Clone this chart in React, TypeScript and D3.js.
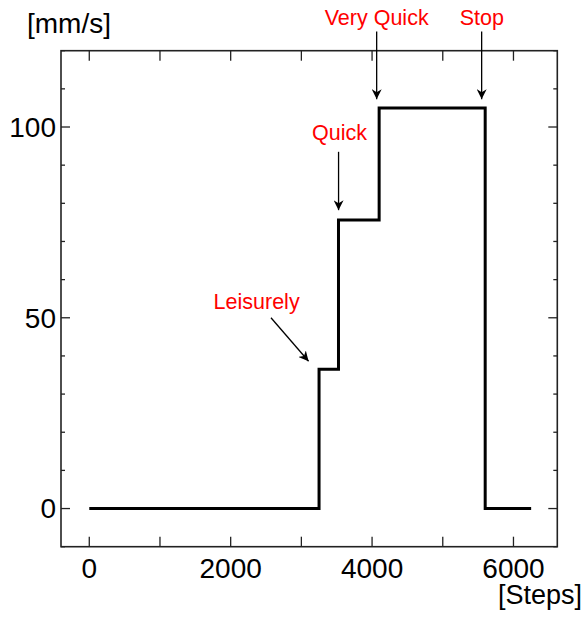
import React from 'react'
import * as d3 from 'd3'

// step profile: speed changes at these step counts
const steps = [0, 3250, 3525, 4100, 5600, 6250]
const speeds = [0, 36.5, 75.6, 105, 0, 0]

const xTicks = [0, 2000, 4000, 6000]
const yTicks = [0, 50, 100]

const labels = ['Leisurely', 'Quick', 'Very Quick', 'Stop']
// text anchor and arrow (start -> tip), in data units
const labelPos = [
  [2367, 52.2],
  [3540, 96.6],
  [4065, 126.8],
  [5552, 126.8],
]
const arrows = [
  [2570, 50, 3102, 38.6],
  [3526, 93.5, 3526, 78.2],
  [4065, 125, 4065, 107.3],
  [5550, 125, 5550, 107.3],
]

const W = 587
const H = 617
const margin = { top: 50.7, right: 29.7, bottom: 70.3, left: 61 }
const FONT = '"Liberation Sans", Arial, sans-serif'

export default function App() {
  const x = d3
    .scaleLinear()
    .domain([-400, 6620])
    .range([margin.left, W - margin.right])
  const y = d3
    .scaleLinear()
    .domain([-10, 120])
    .range([H - margin.bottom, margin.top])

  const pts = steps.map((s, i) => [s, speeds[i]] as [number, number])
  const line = d3
    .line<[number, number]>()
    .x(d => x(d[0]))
    .y(d => y(d[1]))
    .curve(d3.curveStepAfter)

  const x0 = margin.left
  const x1 = W - margin.right
  const y0 = H - margin.bottom
  const y1 = margin.top

  const xMinor = d3.range(0, 6001, 1000)
  const yMinor = d3.range(-10, 121, 10)

  return (
    <svg
      width={W}
      height={H}
      style={{ position: 'absolute', left: 0, top: 0, background: '#fff' }}
      fontFamily={FONT}
    >
      <defs>
        <marker
          id="head"
          viewBox="0 0 10 10"
          refX="10"
          refY="5"
          markerWidth="10"
          markerHeight="10"
          markerUnits="userSpaceOnUse"
          orient="auto"
        >
          <path d="M0,0 L10,5 L0,10 L3,5 Z" fill="#000" />
        </marker>
      </defs>

      {/* frame */}
      <rect x={x0} y={y1} width={x1 - x0} height={y0 - y1} fill="none" stroke="#222" strokeWidth={1.6} />

      {/* x ticks, inside on top and bottom */}
      {xMinor.map(t => (
        <g key={'xt' + t} stroke="#222" strokeWidth={1.3}>
          <line x1={x(t)} x2={x(t)} y1={y0} y2={y0 - 10} />
          <line x1={x(t)} x2={x(t)} y1={y1} y2={y1 + 10} />
        </g>
      ))}
      {/* y ticks, inside on left and right */}
      {yMinor.map(t => {
        const len = t % 50 === 0 ? 9 : 4
        return (
          <g key={'yt' + t} stroke="#222" strokeWidth={1.3}>
            <line x1={x0} x2={x0 + len} y1={y(t)} y2={y(t)} />
            <line x1={x1} x2={x1 - len} y1={y(t)} y2={y(t)} />
          </g>
        )
      })}

      {xTicks.map(t => (
        <text key={'xl' + t} x={x(t)} y={578} textAnchor="middle" fontSize={28} fill="#000">
          {t}
        </text>
      ))}
      {yTicks.map(t => (
        <text key={'yl' + t} x={56} y={y(t)} dy="0.35em" textAnchor="end" fontSize={28} fill="#000">
          {t}
        </text>
      ))}

      <text x={27} y={33} fontSize={28} fill="#000">[mm/s]</text>
      <text x={582} y={604} textAnchor="end" fontSize={27} fill="#000">[Steps]</text>

      <path d={line(pts) || ''} fill="none" stroke="#000" strokeWidth={3} strokeLinejoin="miter" />

      {arrows.map((a, i) => (
        <line
          key={'ar' + i}
          x1={x(a[0])}
          y1={y(a[1])}
          x2={x(a[2])}
          y2={y(a[3])}
          stroke="#000"
          strokeWidth={1.3}
          markerEnd="url(#head)"
        />
      ))}
      {labels.map((l, i) => (
        <text
          key={l}
          x={x(labelPos[i][0])}
          y={y(labelPos[i][1])}
          textAnchor="middle"
          fontSize={21.5}
          fill="#ff0000"
        >
          {l}
        </text>
      ))}
    </svg>
  )
}
